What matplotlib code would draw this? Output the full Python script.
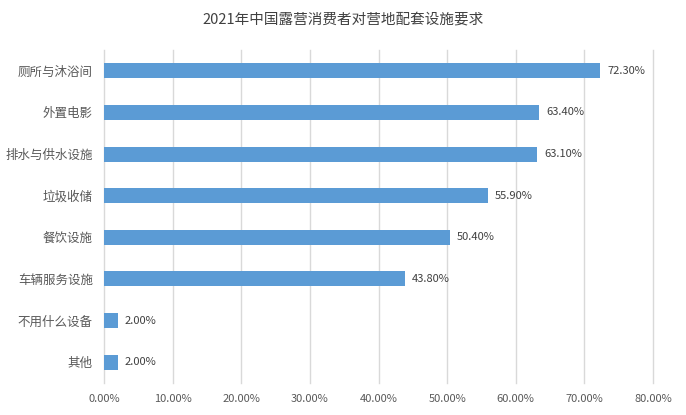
import matplotlib
matplotlib.use("Agg")
import matplotlib.pyplot as plt
import numpy as np

plt.rcParams['font.family'] = ['Noto Sans CJK SC', 'DejaVu Sans']

categories = ["厕所与沐浴间", "外置电影", "排水与供水设施", "垃圾收储", "餐饮设施",
              "车辆服务设施", "不用什么设备", "其他"]
values = [72.3, 63.4, 63.1, 55.9, 50.4, 43.8, 2.0, 2.0]
xticks = np.arange(0, 81, 10)

fig = plt.figure(figsize=(6.86, 4.15), dpi=100)
ax = fig.add_axes([0.1516, 0.077, 0.8004, 0.8025])

y = np.arange(len(categories))[::-1]
ax.barh(y, values, height=0.36, color='#5B9BD5', zorder=3)
for yi, v in zip(y, values):
    ax.text(v + 1.0, yi, f"{v:.2f}%", va='center', ha='left', fontsize=8, color='#404040')

ax.set_xlim(0, 80)
ax.set_ylim(-0.5, len(categories) - 0.5)
ax.set_yticks(y)
ax.set_yticklabels(categories, fontsize=9, color='#595959')
ax.set_xticks(xticks)
ax.set_xticklabels([f"{t:.2f}%" for t in xticks], fontsize=8, color='#595959')
ax.tick_params(axis='both', length=0, pad=8)
ax.grid(axis='x', color='#D9D9D9', linewidth=1, zorder=0)
for gl in ax.get_xgridlines():
    gl.set_clip_on(False)
for s in ax.spines.values():
    s.set_visible(False)

fig.suptitle("2021年中国露营消费者对营地配套设施要求", fontsize=10.5, color='#404040', y=0.97)

fig.savefig("out.png", dpi=100)
